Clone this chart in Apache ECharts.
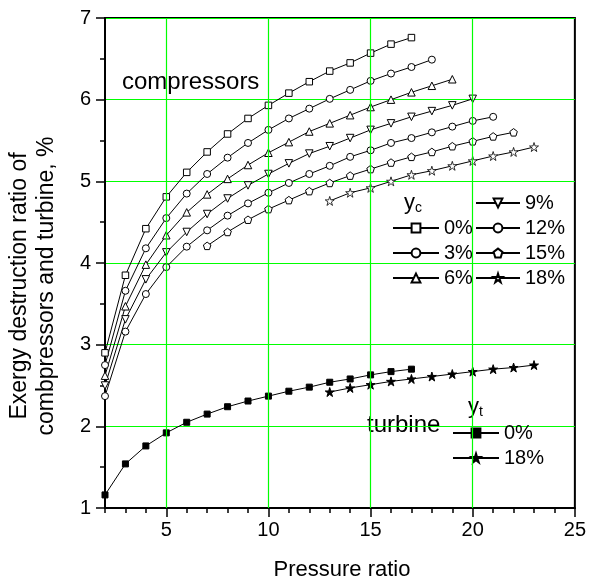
<!DOCTYPE html>
<html>
<head>
<meta charset="utf-8">
<script src="https://cdn.jsdelivr.net/npm/echarts@6/dist/echarts.min.js"></script>
<style>
html,body{margin:0;padding:0;background:#fff;}
#chart{width:589px;height:585px;}
</style>
</head>
<body>
<div id="chart"></div>
<script>
// ---- data ----
var c0X = [2,3,4,5,6,7,8,9,10,11,12,13,14,15,16,17];
var c0Y = [2.90,3.85,4.42,4.81,5.11,5.36,5.58,5.77,5.93,6.08,6.22,6.35,6.45,6.57,6.68,6.76];
var c3X = [2,3,4,5,6,7,8,9,10,11,12,13,14,15,16,17,18];
var c3Y = [2.75,3.66,4.18,4.55,4.85,5.09,5.29,5.47,5.63,5.77,5.89,6.01,6.12,6.23,6.32,6.40,6.49];
var c6X = [2,3,4,5,6,7,8,9,10,11,12,13,14,15,16,17,18,19];
var c6Y = [2.62,3.47,3.98,4.34,4.62,4.84,5.03,5.20,5.35,5.48,5.61,5.71,5.81,5.91,6.00,6.09,6.17,6.25];
var c9X = [2,3,4,5,6,7,8,9,10,11,12,13,14,15,16,17,18,19,20];
var c9Y = [2.50,3.31,3.80,4.13,4.38,4.60,4.79,4.95,5.09,5.22,5.34,5.43,5.53,5.63,5.71,5.79,5.86,5.93,6.01];
var c12X = [2,3,4,5,6,7,8,9,10,11,12,13,14,15,16,17,18,19,20,21];
var c12Y = [2.37,3.16,3.62,3.95,4.20,4.40,4.58,4.73,4.86,4.98,5.09,5.19,5.30,5.38,5.47,5.53,5.60,5.67,5.74,5.79];
var c15X = [7,8,9,10,11,12,13,14,15,16,17,18,19,20,21,22];
var c15Y = [4.21,4.38,4.53,4.66,4.77,4.88,4.98,5.07,5.15,5.23,5.30,5.36,5.43,5.49,5.55,5.60];
var c18X = [13,14,15,16,17,18,19,20,21,22,23];
var c18Y = [4.76,4.86,4.92,5.00,5.08,5.13,5.19,5.25,5.31,5.36,5.42];
var t0X = [2,3,4,5,6,7,8,9,10,11,12,13,14,15,16,17];
var t0Y = [1.16,1.54,1.76,1.92,2.05,2.15,2.24,2.31,2.37,2.43,2.48,2.54,2.58,2.63,2.67,2.70];
var t18X = [13,14,15,16,17,18,19,20,21,22,23];
var t18Y = [2.42,2.47,2.51,2.55,2.58,2.61,2.64,2.67,2.70,2.72,2.75];

var xLabelValues = [5,10,15,20,25];
var xGridValues = [5,10,15,20];
var legendNames = {c0:'0%',c3:'3%',c6:'6%',c9:'9%',c12:'12%',c15:'15%',c18:'18%',t0:'0%',t18:'18%'};

// ---- styling ----
var FONT = 'Liberation Sans, Arial, sans-serif';
var GREEN = '#00ff00';
var STAR = 'path://M0,-1 L0.2245,-0.309 L0.951,-0.309 L0.363,0.118 L0.588,0.809 L0,0.382 L-0.588,0.809 L-0.363,0.118 L-0.951,-0.309 L-0.2245,-0.309 Z';
var PENT = 'path://M0,-1 L0.951,-0.309 L0.588,0.809 L-0.588,0.809 L-0.951,-0.309 Z';

function zip(xs, ys){ return xs.map(function(x,i){ return [x, ys[i]]; }); }
function mk(name, xs, ys, symbol, size, filled, rotate, bw){
  return {
    name: name, type: 'line', data: zip(xs, ys),
    symbol: symbol, symbolSize: size, symbolRotate: rotate || 0,
    showSymbol: true, animation: false, z: 3,
    lineStyle: {color: '#000', width: 1},
    itemStyle: {color: filled ? '#000' : '#fff', borderColor: '#000', borderWidth: bw || 1}
  };
}

var series = [
  mk('c0', c0X, c0Y, 'rect', 6.5, false),
  mk('c3', c3X, c3Y, 'circle', 7, false),
  mk('c6', c6X, c6Y, 'triangle', 7.5, false),
  mk('c9', c9X, c9Y, 'triangle', 7.5, false, 180),
  mk('c12', c12X, c12Y, 'circle', 7, false),
  mk('c15', c15X, c15Y, PENT, 7.5, false),
  mk('c18', c18X, c18Y, STAR, 9, false, 0, 0.8),
  mk('t0', t0X, t0Y, 'rect', 6, true),
  mk('t18', t18X, t18Y, STAR, 9, true)
];
// green vertical grid lines at major x ticks (horizontal ones come from yAxis splitLine)
series.push({
  name: 'grid', type: 'line', data: [], z: 1, silent: true, animation: false,
  markLine: {
    silent: true, symbol: ['none','none'], animation: false,
    label: {show: false},
    lineStyle: {color: GREEN, type: 'solid', width: 1.2, opacity: 1},
    emphasis: {disabled: true},
    data: xGridValues.map(function(v){ return {xAxis: v}; })
  }
});

function legendCfg(data, left, top, w, gap){
  return {
    data: data, left: left, top: top, orient: 'vertical',
    itemWidth: w, itemHeight: 11, itemGap: gap, padding: 0,
    formatter: function(n){ return legendNames[n]; },
    textStyle: {fontSize: 20, color: '#000', fontFamily: FONT, lineHeight: 20},
    selectedMode: false
  };
}

var option = {
  backgroundColor: '#fff',
  animation: false,
  grid: {left: 105, right: 12, top: 18, bottom: 77, show: true,
         borderColor: '#000', borderWidth: 2, backgroundColor: 'transparent'},
  xAxis: [{
    type: 'value', min: 2, max: 25, interval: 1,
    axisLine: {show: true, lineStyle: {color: '#000', width: 2}},
    axisTick: {show: true, length: 5, lineStyle: {color: '#000', width: 1.5}},
    axisLabel: {
      fontSize: 20, color: '#000', fontFamily: FONT, margin: 12,
      formatter: function(v){ return xLabelValues.indexOf(v) >= 0 ? String(v) : ''; }
    },
    splitLine: {show: false}
  }, {
    type: 'value', min: 2, max: 25, interval: 1, position: 'bottom',
    axisLine: {show: false},
    axisTick: {show: true, length: 9, customValues: xLabelValues, lineStyle: {color: '#000', width: 1.5}},
    axisLabel: {show: false},
    splitLine: {show: false}
  }],
  yAxis: {
    type: 'value', min: 1, max: 7, interval: 1,
    axisLine: {show: true, lineStyle: {color: '#000', width: 2}},
    axisTick: {show: true, length: 9, lineStyle: {color: '#000', width: 1.5}},
    minorTick: {show: true, splitNumber: 2, length: 5, lineStyle: {color: '#000', width: 1.5}},
    axisLabel: {fontSize: 20, color: '#000', fontFamily: FONT, margin: 14},
    splitLine: {show: true, lineStyle: {color: GREEN, width: 1.2, opacity: 1}}
  },
  legend: [
    legendCfg(['c0','c3','c6'], 392, 218, 46, 5),
    legendCfg(['c9','c12','c15','c18'], 475, 193, 44, 5),
    legendCfg(['t0','t18'], 452, 423, 46, 5)
  ],
  graphic: [
    {type: 'text', left: 122, top: 70, style: {text: 'compressors', fontSize: 24, fill: '#000', fontFamily: FONT}},
    {type: 'text', left: 367, top: 413, style: {text: 'turbine', fontSize: 24, fill: '#000', fontFamily: FONT}},
    {type: 'text', left: 404, top: 192, style: {
      text: '{a|y}{b|c}', fill: '#000', fontFamily: FONT,
      rich: {a: {fontSize: 22, fontFamily: FONT}, b: {fontSize: 14, fontFamily: FONT, verticalAlign: 'bottom', padding: [10,0,0,0]}}
    }},
    {type: 'text', left: 468, top: 396, style: {
      text: '{a|y}{b|t}', fill: '#000', fontFamily: FONT,
      rich: {a: {fontSize: 22, fontFamily: FONT}, b: {fontSize: 14, fontFamily: FONT, verticalAlign: 'bottom', padding: [10,0,0,0]}}
    }},
    {type: 'text', x: 342, y: 570, style: {text: 'Pressure ratio', fontSize: 22, fill: '#000', fontFamily: FONT, align: 'center', verticalAlign: 'middle'}},
    {type: 'text', x: 33, y: 286, rotation: Math.PI/2, style: {
      text: 'Exergy destruction ratio of\ncombpressors and turbine, %', fontSize: 23, lineHeight: 27,
      fill: '#000', fontFamily: FONT, align: 'center', verticalAlign: 'middle'}}
  ],
  series: series
};

var chart = echarts.init(document.getElementById('chart'), null, {renderer: 'canvas'});
chart.setOption(option);
</script>
</body>
</html>
